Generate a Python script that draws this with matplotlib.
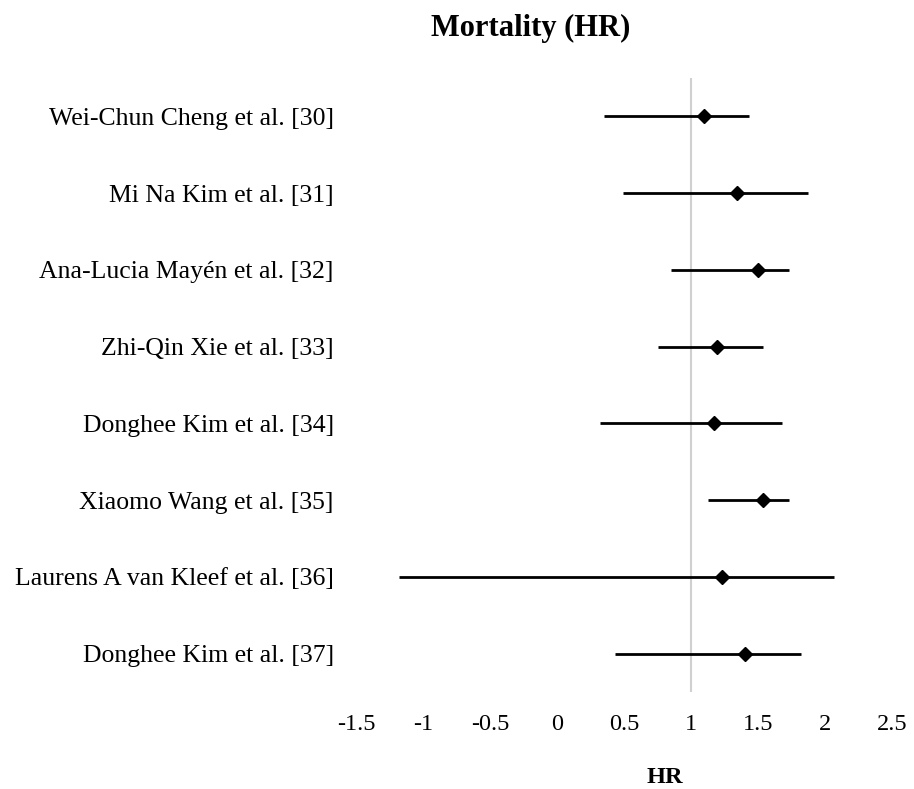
import matplotlib
matplotlib.use("Agg")
import matplotlib.pyplot as plt
import numpy as np

plt.rcParams["font.family"] = ["Liberation Serif", "DejaVu Serif"]

# 研究ごとのHRと95%CI
studies = [
    "Wei-Chun Cheng et al. [30]",
    "Mi Na Kim et al. [31]",
    "Ana-Lucia Mayén et al. [32]",
    "Zhi-Qin Xie et al. [33]",
    "Donghee Kim et al. [34]",
    "Xiaomo Wang et al. [35]",
    "Laurens A van Kleef et al. [36]",
    "Donghee Kim et al. [37]",
]
hr = [1.10, 1.34, 1.50, 1.19, 1.17, 1.54, 1.23, 1.40]
ci_low = [0.35, 0.49, 0.85, 0.75, 0.32, 1.13, -1.18, 0.43]
ci_high = [1.43, 1.87, 1.73, 1.54, 1.68, 1.73, 2.07, 1.82]
xticks = [-1.5, -1, -0.5, 0, 0.5, 1, 1.5, 2, 2.5]
tick_labels = ["-1.5", "-1", "-0.5", "0", "0.5", "1", "1.5", "2", "2.5"]

fig = plt.figure(figsize=(9.14, 7.89), dpi=100)
ax = fig.add_axes([0.3895, 0.123, 0.5865, 0.778])

y = np.arange(len(studies))
hr_arr = np.array(hr)
err = [hr_arr - np.array(ci_low), np.array(ci_high) - hr_arr]

# 基準線 HR=1
ax.axvline(1, color="#d0d0d0", lw=1.5, zorder=0)

ax.errorbar(hr, y, xerr=err, fmt="D", color="black", ecolor="black",
            elinewidth=2, markersize=7, capsize=0, zorder=3)

ax.set_xlim(-1.5, 2.5)
ax.set_ylim(len(studies) - 0.5, -0.5)
ax.set_yticks(y)
ax.set_yticklabels(studies, fontsize=18.5)
ax.set_xticks(xticks)
ax.set_xticklabels(tick_labels, fontsize=17.5)
ax.tick_params(axis="y", length=0, pad=16)
ax.tick_params(axis="x", length=0, pad=16)
for sp in ax.spines.values():
    sp.set_visible(False)

fig.text(0.7276, 0.015, "HR", ha="center", va="center",
         fontsize=17.5, fontweight="bold")
fig.text(0.581, 0.964, "Mortality (HR)", ha="center", va="center",
         fontsize=22, fontweight="bold")

fig.savefig("out.png", dpi=100)
